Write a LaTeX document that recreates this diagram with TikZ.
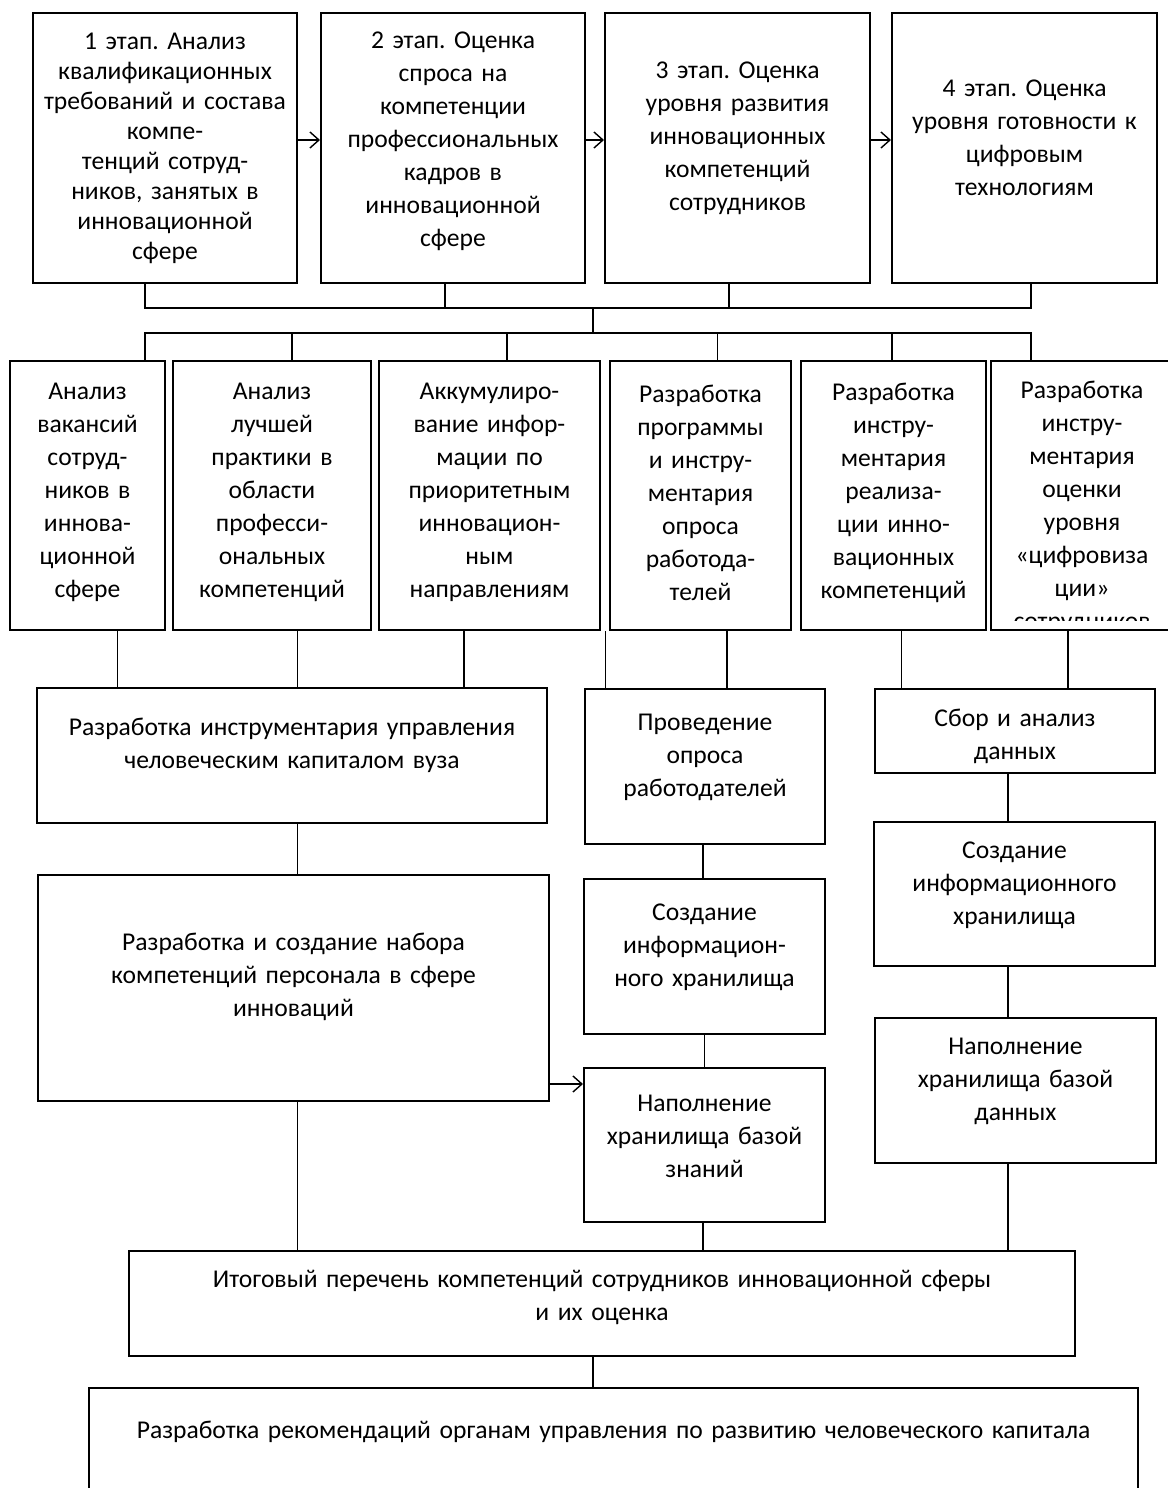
\documentclass[tikz,border=0pt]{standalone}
\usepackage{fontspec}
\setmainfont{Carlito}
\frenchspacing
\usetikzlibrary{arrows.meta,calc,positioning}
\newcommand{\stagefont}{\fontsize{12.8}{16.5}\selectfont}

\tikzset{
  box/.style={draw, line width=1pt, inner sep=0pt, align=center, font=\stagefont},
  sized/.style 2 args={minimum width=#1, minimum height=#2, text width=#1},
  txtup/.style={execute at end node={\par\kern#1}},
  link/.style={line width=0.7pt},
}

\begin{document}
\begin{tikzpicture}[x=0.5pt,y=-0.5pt,>={Straight Barb[length=4.5pt,width=8pt]}]
  \useasboundingbox (0,0) rectangle (1167,1488);
  % stages
  \node[box,sized={132pt}{135pt},font=\fontsize{12.8}{15}\selectfont] (s1) at (165,148)
    {1 этап. Анализ\\ квалификационных\\ требований и состава\\ компе-\\ тенций сотруд-\\ ников, занятых в\\ инновационной\\ сфере};
  \node[box,sized={132pt}{135pt},txtup=7pt] (s2) at (453,148)
    {2 этап. Оценка\\ спроса на\\ компетенции\\ профессиональных\\ кадров в\\ инновационной\\ сфере};
  \node[box,sized={132.5pt}{135pt},txtup=10pt] (s3) at (737.5,148)
    {3 этап. Оценка\\ уровня развития\\ инновационных\\ компетенций\\ сотрудников};
  \node[box,sized={132.5pt}{135pt},txtup=10pt] (s4) at (1024.5,148)
    {4 этап. Оценка\\ уровня готовности к\\ цифровым\\ технологиям};
  \foreach \a/\b in {s1/s2,s2/s3,s3/s4}
    \draw[link,->] ([yshift=4pt]\a.east) -- ([yshift=4pt]\b.west);

  % tasks
  \node[box,sized={77.5pt}{134.5pt},txtup=3pt] (a1) at (87.5,495.5)
    {Анализ\\ вакансий\\ сотруд-\\ ников в\\ иннова-\\ ционной\\ сфере};
  \node[box,sized={99pt}{134.5pt},txtup=3pt] (a2) at (272,495.5)
    {Анализ\\ лучшей\\ практики в\\ области\\ професси-\\ ональных\\ компетенций};
  \node[box,sized={110.5pt}{134.5pt},txtup=3pt] (a3) at (489.5,495.5)
    {Аккумулиро-\\ вание инфор-\\ мации по\\ приоритетным\\ инновацион-\\ ным\\ направлениям};
  \node[box,sized={90.5pt}{134.5pt},txtup=3pt] (a4) at (700.5,495.5)
    {Разработка\\ программы\\ и инстру-\\ ментария\\ опроса\\ работода-\\ телей};
  \node[box,sized={92.5pt}{134.5pt},txtup=3pt] (a5) at (893.5,495.5)
    {Разработка\\ инстру-\\ ментария\\ реализа-\\ ции инно-\\ вационных\\ компетенций};
  \node[box,sized={91pt}{134.5pt}] (a6) at (1082,495.5) {};
  \begin{scope}
    \clip (a6.north west) rectangle ([yshift=5.5pt]a6.south east);
    \node[box,draw=none,text width=91pt] (a6txt) at ([yshift=-6pt]a6.center)
      {Разработка\\ инстру-\\ ментария\\ оценки\\ уровня\\ «цифровиза\\ ции»\\ сотрудников};
  \end{scope}

  \coordinate (bus1) at (593,308);
  \coordinate (bus2) at (593,333);
  \draw[link] ([xshift=-10pt]s1.south) |- ([xshift=3.25pt]s4.south |- bus1) -- ([xshift=3.25pt]s4.south);
  \draw[link] ([xshift=-4pt]s2.south) -- ([xshift=-4pt]s2.south |- bus1);
  \draw[link] ([xshift=-4.25pt]s3.south) -- ([xshift=-4.25pt]s3.south |- bus1);
  \draw[link] (bus1) -- (bus2);
  \draw[link] ([xshift=28.75pt]a1.north) |- ([xshift=-25.5pt]a6.north |- bus2) -- ([xshift=-25.5pt]a6.north);
  \foreach \n/\dx in {a2/10pt,a3/8.75pt,a4/8.45pt,a5/-0.75pt}
    \draw[link] ([xshift=\dx]\n.north) -- ([xshift=\dx]\n.north |- bus2);

  % results
  \node[box,sized={255pt}{67.5pt},txtup=10pt] (b1) at (292,755.5)
    {Разработка инструментария управления\\ человеческим капиталом вуза};
  \node[box,sized={120pt}{77.5pt},txtup=9.5pt] (b2) at (705,766.5)
    {Проведение\\ опроса\\ работодателей};
  \node[box,sized={140pt}{42pt},txtup=-5.5pt] (b3) at (1015,731)
    {Сбор и анализ\\ данных};
  \node[box,sized={255.5pt}{113pt},txtup=11.5pt] (c1) at (293.5,988)
    {Разработка и создание набора\\ компетенций персонала в сфере\\ инноваций};
  \node[box,sized={120.5pt}{77.5pt},txtup=9pt] (c2) at (704.5,956.5)
    {Создание\\ информацион-\\ ного хранилища};
  \node[box,sized={140.5pt}{72pt},txtup=9pt] (c3) at (1014.5,894)
    {Создание\\ информационного\\ хранилища};
  \node[box,sized={120.5pt}{77pt},txtup=8.5pt] (d2) at (704.5,1145)
    {Наполнение\\ хранилища базой\\ знаний};
  \node[box,sized={140.5pt}{72.5pt},txtup=9pt] (d3) at (1015.5,1090.5)
    {Наполнение\\ хранилища базой\\ данных};
  \node[box,sized={473pt}{52.5pt},txtup=6pt] (e) at (602,1303.5)
    {Итоговый перечень компетенций сотрудников инновационной сферы\\ и их оценка};
  \node[box,sized={524.5pt}{56pt},txtup=12pt] (f) at (613.5,1444)
    {Разработка рекомендаций органам управления по развитию человеческого капитала};

  \foreach \n/\dx in {a1/15pt,a2/12.85pt,a3/-12.85pt}
    \draw[link] ([xshift=\dx]\n.south) -- ([xshift=\dx]\n.south |- b1.north);
  \draw[link] ([xshift=2.25pt]a3.south east) -- ([xshift=2.25pt]a3.south east |- b2.north);
  \draw[link] ([xshift=13.25pt]a4.south) -- ([xshift=13.25pt]a4.south |- b2.north);
  \draw[link] ([xshift=4pt]a5.south) -- ([xshift=4pt]a5.south |- b3.north);
  \draw[link] ([xshift=-7pt]a6.south) -- ([xshift=-7pt]a6.south |- b3.north);
  \draw[link] ([xshift=2.85pt]b1.south) -- ([xshift=2.85pt]b1.south |- c1.north);
  \draw[link] ([xshift=2.05pt]c1.south) -- ([xshift=2.05pt]c1.south |- e.north);
  \draw[link] ([xshift=-1pt]b2.south) -- ([xshift=-1pt]b2.south |- c2.north);
  \draw[link] (c2) -- (d2);
  \draw[link] ([xshift=-0.75pt]d2.south) -- ([xshift=-0.75pt]d2.south |- e.north);
  \draw[link] ([xshift=-3.5pt]b3.south) -- ([xshift=-3.5pt]b3.south |- c3.north);
  \draw[link] ([xshift=-3.25pt]c3.south) -- ([xshift=-3.25pt]c3.south |- d3.north);
  \draw[link] ([xshift=-3.75pt]d3.south) -- ([xshift=-3.75pt]d3.south |- e.north);
  \draw[link] ([xshift=-4.5pt]e.south) -- ([xshift=-4.5pt]e.south |- f.north);
  \draw[link,->] ([yshift=-48pt]c1.east) -- ([yshift=-48pt]c1.east -| d2.west);
\end{tikzpicture}
\end{document}
